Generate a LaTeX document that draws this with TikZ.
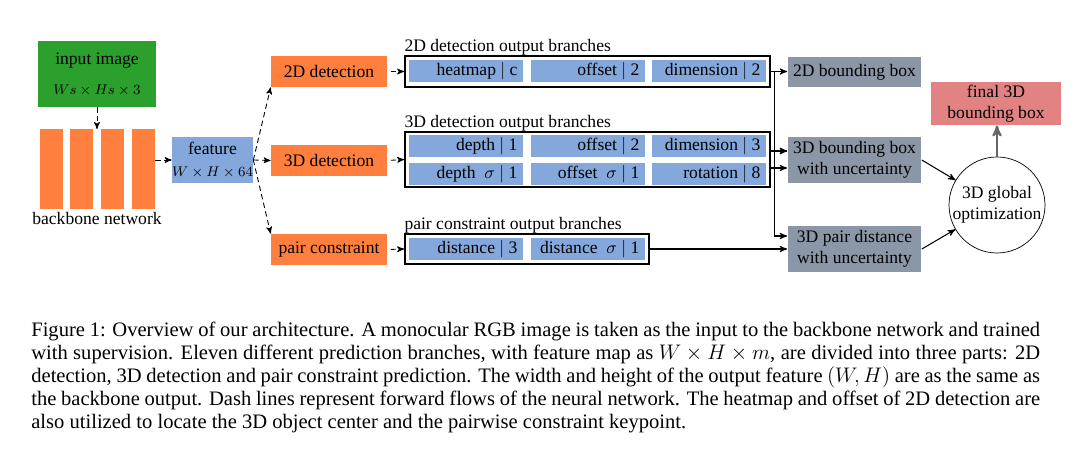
\documentclass[tikz,border=0pt]{standalone}
\usepackage{fontspec}
\setmainfont{Liberation Serif}
\usepackage{xcolor}
\usepackage{tikz}
\usetikzlibrary{shapes,arrows,positioning,calc}

\definecolor{imggreen}{RGB}{44,160,44}
\definecolor{blockorange}{RGB}{255,127,62}
\definecolor{featblue}{RGB}{132,168,220}
\definecolor{boxgray}{RGB}{139,151,166}
\definecolor{finalred}{RGB}{226,130,130}

% right aligned cell text that never wraps
\newcommand{\celltxt}[1]{\makebox[2.06cm][r]{#1}}

\begin{document}
\begin{tikzpicture}[x=0.02cm,y=-0.02cm,
    flow/.style={->,>=stealth',densely dashed,line width=0.5pt},
    link/.style={->,>=stealth',line width=0.6pt},
    block/.style={fill=blockorange,minimum width=2.32cm,minimum height=0.62cm,inner sep=0pt},
    cell/.style={fill=featblue,minimum width=2.28cm,minimum height=0.44cm,inner xsep=0.11cm,inner ysep=0pt},
    branch/.style={draw,line width=1pt,inner sep=0pt},
    result/.style={fill=boxgray,minimum width=2.68cm,inner sep=0pt,align=center},
    heading/.style={anchor=south west,inner sep=0pt}]

    \useasboundingbox (0,0) rectangle (1079,449);

    % Input image and backbone
    \node[fill=imggreen,minimum width=2.36cm,minimum height=1.32cm,align=center] (img) at (97,74) {input image\\[5pt]\footnotesize$Ws\times Hs\times 3$};
    \foreach \i/\x in {1/51.5,2/81.5,3/112.5,4/143.5} {
        \node[fill=blockorange,minimum width=0.46cm,minimum height=1.6cm,inner sep=0pt] (bb\i) at (\x,169) {};
    }
    \node (bbname) at (97,218) {backbone network};
    \coordinate (bbtop) at (97,129);
    \draw[flow] (img.south) -- (bbtop);

    % Feature
    \node[fill=featblue,minimum width=1.62cm,minimum height=0.92cm,inner sep=0pt,align=center] (feat) at (212.5,160) {feature\\[1pt]\footnotesize$W\times H\times 64$};
    \draw[flow] (bb4.east |- feat.west) -- (feat.west);

    % Three heads
    \node[block] (det2d) at (329,71.5) {2D detection};
    \node[block] (det3d) at (329,160.5) {3D detection};
    \node[block] (pairc) at (329,249.5) {pair constraint};
    \draw[flow] (feat.east) -- (det2d.south west);
    \draw[flow] (feat.east) -- (det3d.west);
    \draw[flow] (feat.east) -- (pairc.north west);

    % Output branches
    \node[branch,minimum width=7.3cm,minimum height=0.62cm] (br2d) at (587.5,71.5) {};
    \node[branch,minimum width=7.3cm,minimum height=1.1cm] (br3d) at (587.5,159.5) {};
    \node[branch,minimum width=4.88cm,minimum height=0.6cm] (brpair) at (527,249) {};
    \node[heading] (t2d) at (br2d.north west) {2D detection output branches};
    \node[heading] (t3d) at (br3d.north west) {3D detection output branches};
    \node[heading] (tpair) at (brpair.north west) {pair constraint output branches};
    \draw[flow,shorten <=2pt] (det2d.east) -- (br2d.west);
    \draw[flow,shorten <=2pt] (det3d.east) -- (br3d.west);
    \draw[flow,shorten <=2pt] (pairc.east) -- (brpair.west);

    \foreach \n/\x/\t in {hm/466/heatmap $|$ c, off/588/offset $|$ 2, dim/709/dimension $|$ 2} {
        \node[cell] (\n) at (\x,71.5) {\celltxt{\t}};
    }
    \foreach \n/\x/\t in {dep/466/depth $|$ 1, offt/588/offset $|$ 2, dimt/709/dimension $|$ 3} {
        \node[cell] (\n) at (\x,146) {\celltxt{\t}};
    }
    \foreach \n/\x/\t in {depsig/466/depth\ \ $\sigma$ $|$ 1, offsig/588/offset\ \ $\sigma$ $|$ 1, rot/709/rotation $|$ 8} {
        \node[cell] (\n) at (\x,174) {\celltxt{\t}};
    }
    \node[cell] (dist) at (466,249) {\celltxt{distance $|$ 3}};
    \node[cell] (distsig) at (588,249) {\celltxt{distance\ \ $\sigma$ $|$ 1}};

    % Results
    \node[result,minimum height=0.6cm] (box2d) at (854.5,72) {2D bounding box};
    \node[result,minimum height=0.92cm] (box3d) at (854.5,160) {3D bounding box\\with uncertainty};
    \node[result,minimum height=0.92cm] (boxpair) at (854.5,249) {3D pair distance\\with uncertainty};

    \coordinate (split) at ($(br2d.east)+(4,0)$);
    \coordinate (b3up) at ($(box3d.west)+(0,-9)$);
    \coordinate (b3low) at ($(box3d.west)+(0,8)$);
    \coordinate (bpup) at ($(boxpair.west)+(0,-13)$);
    \draw[link] (br2d.east) -- (br2d.east -| box2d.west);
    \draw[link] (split) |- (bpup);
    \draw[link] (split) |- (b3up);
    \draw[link] (br3d.east |- b3up) -- (b3up);
    \draw[link] (br3d.east |- b3low) -- (b3low);
    \draw[link] (brpair.east) -- (brpair.east -| boxpair.west);

    % Global optimization
    \node[draw,circle,minimum size=1.92cm,inner sep=0pt,align=center] (opt) at (997,205) {3D global\\optimization};
    \node[fill=finalred,minimum width=2.6cm,minimum height=0.86cm,inner sep=0pt,align=center] (final) at (996,103.5) {final 3D\\bounding box};
    \draw[link] (box3d.east) -- (opt);
    \draw[link] (boxpair.east) -- (opt);
    \draw[link,line width=1.2pt,draw=gray!80!black] (opt.north) -- (opt.north |- final.south);

    % Caption
    \node[anchor=north west,inner sep=0pt,text width=20.18cm,align=justify,font=\fontsize{11.7}{13}\selectfont] (caption) at (31,322) {Figure 1: Overview of our architecture. A monocular RGB image is taken as the input to the backbone network and trained\linebreak
    with supervision. Eleven different prediction branches, with feature map as $W\times H\times m$, are divided into three parts: 2D\linebreak
    detection, 3D detection and pair constraint prediction. The width and height of the output feature $(W,H)$ are as the same as\linebreak
    the backbone output. Dash lines represent forward flows of the neural network. The heatmap and offset of 2D detection are\linebreak
    also utilized to locate the 3D object center and the pairwise constraint keypoint.};
\end{tikzpicture}
\end{document}
